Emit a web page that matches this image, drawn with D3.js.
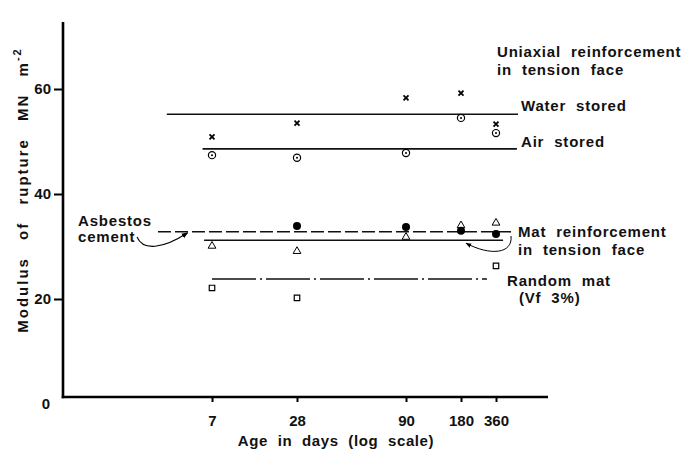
<!DOCTYPE html>
<html>
<head>
<meta charset="utf-8">
<script src="https://cdn.jsdelivr.net/npm/d3@7"></script>
<style>
  body { margin: 0; background: #fff; }
  text { font-family: "Liberation Sans", Arial, Helvetica, sans-serif; font-weight: bold; fill: #111; }
</style>
</head>
<body>
<svg id="chart" width="691" height="452"></svg>
<script>
// Age (days) at which specimens were tested
const ageTicks = [7, 28, 90, 180, 360];
const ageTickLabels = ["7", "28", "90", "180", "360"];
const modulusTicks = [20, 40, 60];

// Modulus of rupture (MN m^-2) per age
const waterStored = [50.9, 53.5, 58.3, 59.2, 53.3];   // uniaxial, water stored (x)
const airStored   = [47.4, 46.9, 47.8, 54.5, 51.6];   // uniaxial, air stored (dotted circle)
const matFilled   = [null, 33.9, 33.7, 33.0, 32.4];   // mat reinforcement (filled circle)
const matOpen     = [30.1, 29.1, 31.8, 34.0, 34.5];   // mat reinforcement (triangle)
const randomMat   = [22.1, 20.2, null, null, 26.3];   // random mat, Vf 3% (square)

// Mean levels drawn across the age range: level and span in days
const meanNames  = ["water", "air", "asbestos", "mat", "random"];
const meanLevels = [55.2, 48.6, 32.8, 31.2, 23.8];
const meanFrom   = [3.35, 6.0, 2.9, 6.15, 7];
const meanTo     = [557, 545, 514, 414, 301];
const meanDash   = [null, null, "13,4", null, "44,4,2,4"];

const svg = d3.select("#chart");

// The age axis is drawn to a hand-laid log scale: piecewise between tick ages
const x = d3.scaleLog().domain(ageTicks).range([212, 297, 406, 461, 496]);
const y = d3.scaleLinear().domain([0, 60]).range([404, 89]);

const axisLeftX = 63, axisBottomY = 397, axisTopY = 22, axisRightX = 548;

// Axis frame
svg.append("line").attr("x1", axisLeftX).attr("x2", axisLeftX)
  .attr("y1", axisTopY).attr("y2", axisBottomY + 1.2)
  .attr("stroke", "#000").attr("stroke-width", 2.6);
svg.append("line").attr("x1", axisLeftX - 1.3).attr("x2", axisRightX)
  .attr("y1", axisBottomY).attr("y2", axisBottomY)
  .attr("stroke", "#000").attr("stroke-width", 2.4);

// Y ticks and labels
const yAxis = svg.append("g").attr("transform", `translate(${axisLeftX},0)`)
  .call(d3.axisLeft(y).tickValues(modulusTicks).tickSize(9).tickPadding(3).tickFormat(d3.format("d")));
yAxis.select(".domain").remove();
yAxis.selectAll(".tick line").attr("stroke", "#000").attr("stroke-width", 2);
yAxis.selectAll(".tick text").attr("font-size", 15).attr("fill", "#111")
  .style("font-family", "'Liberation Sans', Arial, sans-serif").style("font-weight", "bold");
svg.append("text").attr("x", axisLeftX - 13).attr("y", y(0)).attr("dy", "0.36em")
  .attr("text-anchor", "end").attr("font-size", 15).text("0");

// X ticks and labels
const xAxis = svg.append("g").attr("transform", `translate(0,${axisBottomY})`)
  .call(d3.axisBottom(x).tickValues(ageTicks).tickSize(5).tickPadding(13)
    .tickFormat((d, i) => ageTickLabels[i]));
xAxis.select(".domain").remove();
xAxis.selectAll(".tick line").attr("stroke", "#000").attr("stroke-width", 2);
xAxis.selectAll(".tick text").attr("font-size", 15).attr("fill", "#111")
  .style("font-family", "'Liberation Sans', Arial, sans-serif").style("font-weight", "bold");

// Axis titles
svg.append("text")
  .attr("transform", `translate(28,${y(40) - 4}) rotate(-90)`)
  .attr("text-anchor", "middle").attr("font-size", 15)
  .style("letter-spacing", "2px").style("word-spacing", "11px")
  .call(t => {
    t.append("tspan").text("Modulus of rupture MN m");
    t.append("tspan").attr("dy", -7).attr("font-size", 11).text("-2");
  });
svg.append("text").attr("x", 336).attr("y", 446).attr("text-anchor", "middle")
  .attr("font-size", 15).style("letter-spacing", "0.6px").style("word-spacing", "5px")
  .text("Age in days (log scale)");

// Mean level lines
svg.append("g").selectAll("line").data(meanNames).join("line")
  .attr("x1", (d, i) => x(meanFrom[i])).attr("x2", (d, i) => x(meanTo[i]))
  .attr("y1", (d, i) => y(meanLevels[i])).attr("y2", (d, i) => y(meanLevels[i]))
  .attr("stroke", "#111").attr("stroke-width", 1.6)
  .attr("stroke-dasharray", (d, i) => meanDash[i]);

// Point markers
const pts = arr => ageTicks.map((a, i) => ({ a, v: arr[i] })).filter(d => d.v != null);
const g = svg.append("g");

g.selectAll(".water").data(pts(waterStored)).join("path").attr("class", "water")
  .attr("transform", d => `translate(${x(d.a)},${y(d.v)})`)
  .attr("d", d3.symbol(d3.symbolX, 18)).attr("fill", "none")
  .attr("stroke", "#000").attr("stroke-width", 1.8);

const air = g.selectAll(".air").data(pts(airStored)).join("g").attr("class", "air")
  .attr("transform", d => `translate(${x(d.a)},${y(d.v)})`);
air.append("circle").attr("r", 3.6).attr("fill", "#fff").attr("stroke", "#000").attr("stroke-width", 1.2);
air.append("circle").attr("r", 1).attr("fill", "#000");

g.selectAll(".matopen").data(pts(matOpen)).join("path").attr("class", "matopen")
  .attr("transform", d => `translate(${x(d.a)},${y(d.v)})`)
  .attr("d", d3.symbol(d3.symbolTriangle, 26)).attr("fill", "#fff")
  .attr("stroke", "#000").attr("stroke-width", 1);

g.selectAll(".matfilled").data(pts(matFilled)).join("circle").attr("class", "matfilled")
  .attr("cx", d => x(d.a)).attr("cy", d => y(d.v)).attr("r", 4).attr("fill", "#000");

g.selectAll(".random").data(pts(randomMat)).join("path").attr("class", "random")
  .attr("transform", d => `translate(${x(d.a)},${y(d.v)})`)
  .attr("d", d3.symbol(d3.symbolSquare, 30)).attr("fill", "#fff")
  .attr("stroke", "#000").attr("stroke-width", 1.2);

// Arrowheads for the leader lines
svg.append("defs").append("marker").attr("id", "head")
  .attr("viewBox", "0 0 10 10").attr("refX", 9).attr("refY", 5)
  .attr("markerWidth", 6).attr("markerHeight", 6).attr("orient", "auto")
  .append("path").attr("d", "M0,1 L10,5 L0,9 Z").attr("fill", "#000");

// Leader from "Asbestos cement" to its dashed line
const asbTipX = x(4.7), asbTipY = y(meanLevels[2]);
const p1 = d3.path();
p1.moveTo(137, 237);
p1.bezierCurveTo(143, 251, 163, 249, asbTipX, asbTipY + 1);
svg.append("path").attr("d", p1.toString()).attr("fill", "none")
  .attr("stroke", "#000").attr("stroke-width", 1.1).attr("marker-end", "url(#head)");

// Leader from "Mat reinforcement" to its solid line
const matTipX = x(199), matTipY = y(meanLevels[3]) + 3;
const p2 = d3.path();
p2.moveTo(511, 236);
p2.bezierCurveTo(513, 254, 490, 256, matTipX, matTipY);
svg.append("path").attr("d", p2.toString()).attr("fill", "none")
  .attr("stroke", "#000").attr("stroke-width", 1).attr("marker-end", "url(#head)");

// Annotations
const notes = [
  { t: "Uniaxial reinforcement", x: 497, y: 52 },
  { t: "in tension face", x: 497, y: 70 },
  { t: "Water stored", x: 521, y: 106 },
  { t: "Air stored", x: 521, y: 142 },
  { t: "Asbestos", x: 78, y: 221 },
  { t: "cement", x: 78, y: 237 },
  { t: "Mat reinforcement", x: 518, y: 232 },
  { t: "in tension face", x: 518, y: 250 },
  { t: "Random mat", x: 507, y: 281 },
  { t: "(Vf 3%)", x: 519, y: 298 }
];
svg.append("g").selectAll("text").data(notes).join("text")
  .attr("x", d => d.x).attr("y", d => d.y).attr("dy", "0.36em")
  .attr("font-size", 15).style("letter-spacing", "0.8px").style("word-spacing", "5px")
  .text(d => d.t);
</script>
</body>
</html>
